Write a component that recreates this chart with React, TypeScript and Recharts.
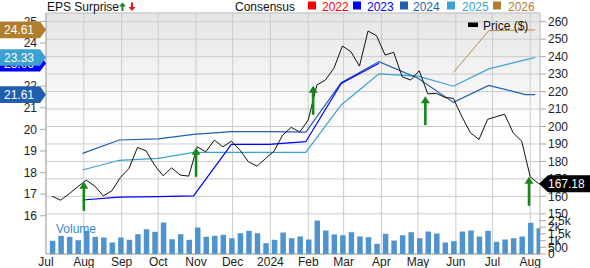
import React from 'react';
import {
  ComposedChart,
  Line,
  Bar,
  XAxis,
  YAxis,
  CartesianGrid,
  ReferenceDot,
  ReferenceLine,
} from 'recharts';

const FONT = '"Liberation Sans", Arial, Helvetica, sans-serif';
const START = Date.UTC(2023, 6, 1);
const dayOf = (iso: string) => Math.round((Date.parse(iso + 'T00:00:00Z') - START) / 86400000);

// X axis: month starts and labels
const monthTickDates = [
  '2023-07-01', '2023-08-01', '2023-09-01', '2023-10-01', '2023-11-01', '2023-12-01',
  '2024-01-01', '2024-02-01', '2024-03-01', '2024-04-01', '2024-05-01', '2024-06-01',
  '2024-07-01', '2024-08-01',
];
const monthTickLabels = ['Jul', 'Aug', 'Sep', 'Oct', 'Nov', 'Dec', '2024', 'Feb', 'Mar', 'Apr', 'May', 'Jun', 'Jul', 'Aug'];

// Weekly price and volume
const firstWeek = '2023-07-06';
const priceValues = [
  160.1, 157.8, 161.5, 165.5, 169.3, 165.9, 160.3, 163.2, 170.8, 176,
  188, 186.1, 177.9, 171.8, 176.3, 172.2, 171.6, 188.4, 185.5, 192.2,
  188.4, 191.6, 186.5, 179.8, 177.3, 181.7, 185.9, 195.1, 199.5, 196.9,
  203.7, 223.7, 226.6, 233.3, 246.1, 242.8, 234.6, 254.7, 252, 240.9,
  242.5, 228.5, 226.6, 231.9, 218.7, 219, 216.7, 216.1, 205.6, 196.4,
  192.6, 204.1, 205.6, 207, 196.4, 191.6, 171.2, 167.18,
];
const volumeValues = [
  985, 1358, 1284, 1030, 1731, 1284, 1231, 858, 1231, 1060,
  1478, 1851, 1657, 2351, 1104, 1478, 1060, 1978, 1284, 1358,
  1433, 1179, 1552, 1731, 1552, 806, 1060, 1604, 1179, 1306,
  1082, 2500, 1754, 1455, 1403, 1627, 1306, 1254, 761, 1507,
  1007, 1403, 1627, 1179, 1679, 1530, 858, 955, 1679, 1754,
  1306, 1731, 910, 1082, 1179, 1306, 2328, 1925,
];

// Consensus EPS estimates by fiscal year
const consensusDates = [
  '2023-07-31', '2023-08-30', '2023-10-01', '2023-10-30', '2023-11-30', '2023-12-31',
  '2024-01-30', '2024-02-28', '2024-03-30', '2024-05-01', '2024-05-30', '2024-06-28',
  '2024-07-28', '2024-08-05',
];
const eps2022: (number | null)[] = [null, null, null, null, null, null, null, null, null, null, null, null, null, null];
const eps2023: (number | null)[] = [16.73, 16.86, 16.89, 16.92, 19.31, 19.31, 19.43, 22.13, 23.06, null, null, null, null, null];
const eps2024: (number | null)[] = [18.89, 19.51, 19.56, 19.77, 19.9, 19.9, 19.87, 22.16, 23.14, 22.37, 21.25, 22.04, 21.61, 21.61];
const eps2025: (number | null)[] = [18.12, 18.57, 18.66, 18.94, 18.94, 18.94, 18.94, 21.13, 22.57, 22.47, 22.0, 22.8, 23.22, 23.33];
const eps2026: (number | null)[] = [null, null, null, null, null, null, null, null, null, null, 22.64, 24.57, 24.6, 24.61];

// EPS surprise markers (all positive)
const surpriseDates = ['2023-08-01', '2023-11-01', '2024-02-05', '2024-05-07', '2024-07-31'];
const surprisePrices = [168.3, 187.8, 223.3, 217.4, 171.2];

// Axis ticks
const epsTicks = [16, 17, 18, 19, 20, 21, 22, 23, 24, 25];
const priceTicks = [150, 160, 170, 180, 190, 200, 210, 220, 230, 240, 250, 260];
const volumeTicks = [0, 500, 1000, 1500, 2000, 2500];
const volumeTickLabels = ['0', '500', '1k', '1.5k', '2k', '2.5k'];

const COLORS = {
  y2022: '#ff0000',
  y2023: '#0000ff',
  y2024: '#1f5fae',
  y2025: '#3ba0d2',
  y2026: '#b07f2e',
  line2026: '#bb8e48',
  volume: '#4f93cf',
  green: '#14891a',
  red: '#e8141e',
  grid: '#cccccc',
  axis: '#aaaaaa',
};

// Build tables
const startWeekDay = dayOf(firstWeek);
const weekly = priceValues.map((p, i) => ({
  day: startWeekDay + 7 * i,
  price: p,
  volume: volumeValues[i],
}));
const consensus = consensusDates.map((d, i) => ({
  day: dayOf(d),
  e2022: eps2022[i],
  e2023: eps2023[i],
  e2024: eps2024[i],
  e2025: eps2025[i],
  e2026: eps2026[i],
}));
const surprises = surpriseDates.map((d, i) => ({ day: dayOf(d), price: surprisePrices[i] }));
const monthTicks = monthTickDates.map(dayOf);
const monthLabelByDay: Record<number, string> = {};
monthTicks.forEach((d, i) => (monthLabelByDay[d] = monthTickLabels[i]));
const volumeLabelByValue: Record<number, string> = {};
volumeTicks.forEach((v, i) => (volumeLabelByValue[v] = volumeTickLabels[i]));

const lastIdx = (arr: (number | null)[]) => {
  for (let i = arr.length - 1; i >= 0; i--) if (arr[i] != null) return i;
  return -1;
};
const last2023 = eps2023[lastIdx(eps2023)] as number;
const last2024 = eps2024[lastIdx(eps2024)] as number;
const last2025 = eps2025[lastIdx(eps2025)] as number;
const last2026 = eps2026[lastIdx(eps2026)] as number;
const lastPrice = priceValues[priceValues.length - 1];

const X_DOMAIN: [number, number] = [0, 405];
const EPS_DOMAIN: [number, number] = [14.23, 25.39];
const PRICE_DOMAIN: [number, number] = [127, 265];
const VOL_DOMAIN: [number, number] = [0, 18000];

const makeLeftFlag = (color: string, text: string) => (props: any) => {
  const { cx, cy } = props;
  if (cx == null || cy == null) return <g />;
  const h = 8.3;
  const left = cx - 46;
  const pts = `${left},${cy - h} ${cx - 6},${cy - h} ${cx},${cy} ${cx - 6},${cy + h} ${left},${cy + h}`;
  return (
    <g>
      <polygon points={pts} fill={color} />
      <text x={left + 4} y={cy + 4.3} fill="#ffffff" fontSize={12} fontFamily={FONT}>
        {text}
      </text>
    </g>
  );
};

const PriceFlag = (props: any) => {
  const { cx, cy } = props;
  if (cx == null || cy == null) return <g />;
  const h = 8.5;
  const right = 590;
  const pts = `${cx - 1},${cy} ${cx + 8},${cy - h} ${right},${cy - h} ${right},${cy + h} ${cx + 8},${cy + h}`;
  return (
    <g>
      <polygon points={pts} fill="#000000" />
      <text x={cx + 8} y={cy + 4.3} fill="#ffffff" fontSize={12} fontFamily={FONT}>
        {lastPrice.toFixed(2)}
      </text>
    </g>
  );
};

const SurpriseArrow = (props: any) => {
  const { cx, cy, index } = props;
  if (cx == null || cy == null) return <g key={`a${index}`} />;
  return (
    <g key={`a${index}`}>
      <polygon points={`${cx},${cy} ${cx - 4.5},${cy + 7} ${cx + 4.5},${cy + 7}`} fill={COLORS.green} />
      <rect x={cx - 1.3} y={cy + 6} width={2.6} height={23} fill={COLORS.green} />
    </g>
  );
};

const tickStyle = { fontSize: 12, fill: '#222222', fontFamily: FONT };

const legendYears = [
  { label: '2022', color: COLORS.y2022, sq: 308, tx: 322 },
  { label: '2023', color: COLORS.y2023, sq: 353, tx: 367 },
  { label: '2024', color: COLORS.y2024, sq: 400, tx: 413 },
  { label: '2025', color: COLORS.y2025, sq: 447, tx: 462 },
  { label: '2026', color: COLORS.y2026, sq: 493, tx: 508 },
];

export default function App() {
  return (
    <div style={{ position: 'absolute', left: 0, top: 0, width: 590, height: 268, background: '#ffffff', fontFamily: FONT }}>
      {/* Main chart: price, consensus, grid, axes */}
      <div style={{ position: 'absolute', left: 0, top: 0 }}>
        <ComposedChart
          width={590}
          height={268}
          data={weekly}
          margin={{ top: 13, right: 0, bottom: 0, left: 0 }}
        >
          <defs>
            <linearGradient id="plotBg" x1="0" y1="0" x2="0" y2="1">
              <stop offset="0" stopColor="#e5e5e5" />
              <stop offset="0.47" stopColor="#ffffff" />
              <stop offset="1" stopColor="#ffffff" />
            </linearGradient>
          </defs>
          <CartesianGrid
            yAxisId="price"
            stroke={COLORS.grid}
            strokeWidth={1}
            fill="url(#plotBg)"
            fillOpacity={1}
          />
          <XAxis
            dataKey="day"
            type="number"
            domain={X_DOMAIN}
            allowDataOverflow
            ticks={monthTicks}
            interval={0}
            tickFormatter={(d: number) => monthLabelByDay[d] ?? ''}
            tickLine={false}
            tickSize={0}
            tickMargin={3}
            axisLine={{ stroke: COLORS.axis }}
            tick={tickStyle}
            height={14}
          />
          <YAxis
            yAxisId="eps"
            orientation="left"
            type="number"
            width={46}
            domain={EPS_DOMAIN}
            allowDataOverflow
            ticks={epsTicks}
            interval={0}
            tickSize={6}
            tickMargin={3}
            tickLine={{ stroke: COLORS.axis }}
            axisLine={{ stroke: COLORS.axis }}
            tick={tickStyle}
          />
          <YAxis
            yAxisId="price"
            orientation="right"
            type="number"
            width={50}
            domain={PRICE_DOMAIN}
            allowDataOverflow
            ticks={priceTicks}
            interval={0}
            tickSize={6}
            tickMargin={2}
            tickLine={{ stroke: COLORS.axis }}
            axisLine={{ stroke: COLORS.grid }}
            tick={tickStyle}
          />
          <ReferenceLine yAxisId="price" y={265} stroke={COLORS.grid} />

          <Line yAxisId="eps" data={consensus} dataKey="e2022" stroke={COLORS.y2022} strokeWidth={1.2} dot={false} activeDot={false} isAnimationActive={false} />
          <Line yAxisId="eps" data={consensus} dataKey="e2025" stroke={COLORS.y2025} strokeWidth={1.2} dot={false} activeDot={false} isAnimationActive={false} />
          <Line yAxisId="eps" data={consensus} dataKey="e2024" stroke={COLORS.y2024} strokeWidth={1.2} dot={false} activeDot={false} isAnimationActive={false} />
          <Line yAxisId="eps" data={consensus} dataKey="e2023" stroke={COLORS.y2023} strokeWidth={1.2} dot={false} activeDot={false} isAnimationActive={false} />
          <Line yAxisId="eps" data={consensus} dataKey="e2026" stroke={COLORS.line2026} strokeWidth={1} dot={false} activeDot={false} isAnimationActive={false} />

          <Line
            yAxisId="price"
            dataKey="price"
            stroke="#111111"
            strokeWidth={1}
            dot={false}
            activeDot={false}
            isAnimationActive={false}
          />
          <Line
            yAxisId="price"
            data={surprises}
            dataKey="price"
            stroke="none"
            dot={SurpriseArrow}
            activeDot={false}
            isAnimationActive={false}
          />
        </ComposedChart>
      </div>

      {/* Overlay chart: volume bars, volume axis and value flags */}
      <div style={{ position: 'absolute', left: 0, top: 0 }}>
        <ComposedChart
          width={590}
          height={268}
          data={weekly}
          margin={{ top: 13, right: 0, bottom: 14, left: 46 }}
        >
          <XAxis dataKey="day" type="number" domain={X_DOMAIN} allowDataOverflow hide />
          <YAxis yAxisId="eps" orientation="left" type="number" domain={EPS_DOMAIN} allowDataOverflow hide />
          <YAxis yAxisId="price" orientation="left" type="number" domain={PRICE_DOMAIN} allowDataOverflow hide />
          <YAxis
            yAxisId="vol"
            orientation="right"
            type="number"
            width={50}
            domain={VOL_DOMAIN}
            allowDataOverflow
            ticks={volumeTicks}
            interval={0}
            tickFormatter={(v: number) => volumeLabelByValue[v] ?? ''}
            tickSize={6}
            tickMargin={2}
            tickLine={{ stroke: COLORS.axis }}
            axisLine={false}
            tick={tickStyle}
          />
          <Bar
            yAxisId="vol"
            dataKey="volume"
            fill={COLORS.volume}
            barSize={5.5}
            isAnimationActive={false}
          />
          <ReferenceDot yAxisId="eps" x={0} y={last2023} r={0} ifOverflow="visible" shape={makeLeftFlag(COLORS.y2023, last2023.toFixed(2))} />
          <ReferenceDot yAxisId="eps" x={0} y={last2025} r={0} ifOverflow="visible" shape={makeLeftFlag(COLORS.y2025, last2025.toFixed(2))} />
          <ReferenceDot yAxisId="eps" x={0} y={last2024} r={0} ifOverflow="visible" shape={makeLeftFlag(COLORS.y2024, last2024.toFixed(2))} />
          <ReferenceDot yAxisId="eps" x={0} y={last2026} r={0} ifOverflow="visible" shape={makeLeftFlag(COLORS.y2026, last2026.toFixed(2))} />
          <ReferenceDot yAxisId="price" x={X_DOMAIN[1]} y={lastPrice} r={0} ifOverflow="visible" shape={PriceFlag} />
        </ComposedChart>
      </div>

      <svg
        width={590}
        height={268}
        style={{ position: 'absolute', left: 0, top: 0, pointerEvents: 'none' }}
      >
        <text x={47} y={10.5} fontSize={12} fill="#111" fontFamily={FONT}>EPS Surprise</text>
        <g>
          <polygon points="122.5,2.5 119,6.5 126,6.5" fill={COLORS.green} />
          <rect x={121.5} y={6} width={2} height={5} fill={COLORS.green} />
        </g>
        <g>
          <rect x={131} y={2.5} width={2} height={5} fill={COLORS.red} />
          <polygon points="132,11 128.5,7 135.5,7" fill={COLORS.red} />
        </g>
        <text x={235} y={10.5} fontSize={12} fill="#111" fontFamily={FONT}>Consensus</text>
        {legendYears.map((y) => (
          <g key={y.label}>
            <rect x={y.sq} y={1.5} width={8} height={8} fill={y.color} />
            <text x={y.tx} y={10.5} fontSize={12} fill={y.color} fontFamily={FONT}>{y.label}</text>
          </g>
        ))}
        <rect x={468} y={22.5} width={10} height={4.5} fill="#000" />
        <text x={483} y={29.5} fontSize={12} fill="#111" fontFamily={FONT}>Price ($)</text>
        <text x={56} y={232.5} fontSize={12} fill="#3a87cc" fontFamily={FONT}>Volume</text>
      </svg>
    </div>
  );
}
